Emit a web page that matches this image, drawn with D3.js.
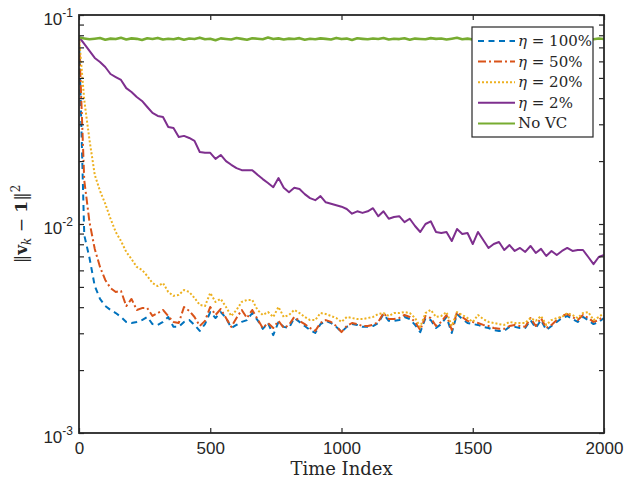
<!DOCTYPE html>
<html>
<head>
<meta charset="utf-8">
<script src="https://cdn.jsdelivr.net/npm/d3@7"></script>
<style>
  body { margin: 0; background: #fff; }
  .tick text { font-family: "Liberation Sans", Arial, sans-serif; fill: #262626; }
</style>
</head>
<body>
<div id="chart"></div>
<script>
// time index grid (every 20 samples)
const timeIndex = d3.range(0, 2001, 20);

const eta100 = [0.0785, 0.00886, 0.00688, 0.00505, 0.00438, 0.00405, 0.00388, 0.00375, 0.00359, 0.00340,
  0.00336, 0.00340, 0.00347, 0.00359, 0.00332, 0.00329, 0.00340, 0.00359, 0.00322, 0.00322,
  0.00340, 0.00347, 0.00329, 0.00308, 0.00332, 0.00379, 0.00355, 0.00379, 0.00355, 0.00318,
  0.00329, 0.00340, 0.00347, 0.00375, 0.00347, 0.00315, 0.00336, 0.00294, 0.00340, 0.00322,
  0.00318, 0.00355, 0.00340, 0.00325, 0.00311, 0.00301, 0.00332, 0.00344, 0.00336, 0.00322,
  0.00304, 0.00322, 0.00332, 0.00329, 0.00322, 0.00322, 0.00325, 0.00336, 0.00371, 0.00344,
  0.00344, 0.00347, 0.00359, 0.00351, 0.00329, 0.00304, 0.00355, 0.00347, 0.00318, 0.00332,
  0.00359, 0.00301, 0.00371, 0.00351, 0.00336, 0.00332, 0.00329, 0.00322, 0.00318, 0.00311,
  0.00308, 0.00308, 0.00322, 0.00322, 0.00318, 0.00318, 0.00347, 0.00318, 0.00347, 0.00311,
  0.00325, 0.00340, 0.00355, 0.00363, 0.00351, 0.00340, 0.00359, 0.00347, 0.00332, 0.00340,
  0.00355];

const eta50 = [0.0785, 0.0162, 0.0102, 0.00760, 0.00623, 0.00540, 0.00494, 0.00473, 0.00478, 0.00405,
  0.00438, 0.00388, 0.00396, 0.00396, 0.00363, 0.00375, 0.00388, 0.00363, 0.00340, 0.00336,
  0.00401, 0.00384, 0.00359, 0.00325, 0.00344, 0.00401, 0.00367, 0.00392, 0.00355, 0.00322,
  0.00355, 0.00388, 0.00355, 0.00388, 0.00351, 0.00318, 0.00336, 0.00318, 0.00344, 0.00318,
  0.00329, 0.00359, 0.00344, 0.00332, 0.00318, 0.00308, 0.00336, 0.00347, 0.00340, 0.00325,
  0.00304, 0.00325, 0.00336, 0.00332, 0.00325, 0.00325, 0.00329, 0.00340, 0.00375, 0.00351,
  0.00351, 0.00355, 0.00367, 0.00359, 0.00340, 0.00311, 0.00363, 0.00355, 0.00325, 0.00340,
  0.00367, 0.00311, 0.00379, 0.00359, 0.00344, 0.00340, 0.00336, 0.00329, 0.00325, 0.00318,
  0.00315, 0.00315, 0.00325, 0.00329, 0.00325, 0.00322, 0.00355, 0.00325, 0.00355, 0.00318,
  0.00329, 0.00347, 0.00363, 0.00371, 0.00359, 0.00347, 0.00367, 0.00355, 0.00340, 0.00347,
  0.00363];

const eta20 = [0.0785, 0.0392, 0.0252, 0.0172, 0.0144, 0.0125, 0.0106, 0.00916, 0.00829, 0.00735,
  0.00680, 0.00623, 0.00603, 0.00564, 0.00522, 0.00505, 0.00522, 0.00473, 0.00453, 0.00458,
  0.00483, 0.00473, 0.00443, 0.00410, 0.00405, 0.00468, 0.00424, 0.00438, 0.00401, 0.00363,
  0.00388, 0.00424, 0.00433, 0.00433, 0.00388, 0.00367, 0.00379, 0.00359, 0.00401, 0.00359,
  0.00367, 0.00388, 0.00375, 0.00359, 0.00347, 0.00347, 0.00375, 0.00371, 0.00363, 0.00355,
  0.00340, 0.00359, 0.00355, 0.00351, 0.00351, 0.00355, 0.00359, 0.00371, 0.00375, 0.00363,
  0.00375, 0.00375, 0.00379, 0.00375, 0.00355, 0.00322, 0.00375, 0.00388, 0.00359, 0.00363,
  0.00379, 0.00325, 0.00379, 0.00367, 0.00355, 0.00340, 0.00367, 0.00351, 0.00340, 0.00336,
  0.00332, 0.00329, 0.00340, 0.00336, 0.00336, 0.00336, 0.00355, 0.00344, 0.00363, 0.00329,
  0.00347, 0.00355, 0.00359, 0.00375, 0.00367, 0.00355, 0.00375, 0.00379, 0.00347, 0.00359,
  0.00375];

const eta2 = [0.0785, 0.0727, 0.0673, 0.0623, 0.0596, 0.0564, 0.0522, 0.0505, 0.0489, 0.0447,
  0.0428, 0.0405, 0.0388, 0.0363, 0.0340, 0.0329, 0.0325, 0.0291, 0.0288, 0.0261,
  0.0264, 0.0258, 0.0250, 0.0221, 0.0219, 0.0219, 0.0205, 0.0214, 0.0200, 0.0192,
  0.0185, 0.0181, 0.0181, 0.0181, 0.0172, 0.0164, 0.0157, 0.0150, 0.0166, 0.0149,
  0.0142, 0.0149, 0.0147, 0.0139, 0.0133, 0.0130, 0.0136, 0.0127, 0.0125, 0.0123,
  0.0121, 0.0118, 0.0112, 0.0115, 0.0113, 0.0115, 0.0119, 0.0109, 0.0115, 0.0106,
  0.0108, 0.0109, 0.0102, 0.0106, 0.00978, 0.00916, 0.0100, 0.0103, 0.00916, 0.00906,
  0.00916, 0.00829, 0.00946, 0.00896, 0.00906, 0.00802, 0.00916, 0.00838, 0.00768, 0.00802,
  0.00820, 0.00751, 0.00793, 0.00743, 0.00768, 0.00735, 0.00785, 0.00727, 0.00760, 0.00703,
  0.00743, 0.00711, 0.00743, 0.00768, 0.00743, 0.00751, 0.00751, 0.00695, 0.00643, 0.00695,
  0.00711];

const noVC = [0.0780, 0.0772, 0.0765, 0.0770, 0.0776, 0.0762, 0.0771, 0.0767, 0.0778, 0.0764,
  0.0773, 0.0769, 0.0760, 0.0774, 0.0768, 0.0777, 0.0763, 0.0770, 0.0766, 0.0775,
  0.0761, 0.0772, 0.0767, 0.0779, 0.0765, 0.0770, 0.0758, 0.0773, 0.0768, 0.0764,
  0.0776, 0.0769, 0.0762, 0.0774, 0.0770, 0.0766, 0.0781, 0.0767, 0.0773, 0.0763,
  0.0771, 0.0768, 0.0775, 0.0762, 0.0770, 0.0766, 0.0773, 0.0769, 0.0764, 0.0777,
  0.0767, 0.0771, 0.0760, 0.0774, 0.0769, 0.0765, 0.0772, 0.0768, 0.0776, 0.0763,
  0.0770, 0.0767, 0.0774, 0.0761, 0.0771, 0.0768, 0.0765, 0.0775, 0.0769, 0.0772,
  0.0763, 0.0770, 0.0778, 0.0766, 0.0771, 0.0764, 0.0773, 0.0768, 0.0776, 0.0762,
  0.0770, 0.0767, 0.0774, 0.0765, 0.0771, 0.0769, 0.0763, 0.0775, 0.0768, 0.0772,
  0.0766, 0.0770, 0.0774, 0.0764, 0.0771, 0.0767, 0.0773, 0.0769, 0.0765, 0.0772,
  0.0768];

const seriesNames = ['100%', '50%', '20%', '2%', 'No VC'];
const xTicks = [0, 500, 1000, 1500, 2000];
const yMajor = [1e-3, 1e-2, 1e-1];
const yExponents = ['-3', '-2', '-1'];

const svgWidth = 626, svgHeight = 483;
const plotLeft = 79, plotRight = 604, plotTop = 15, plotBottom = 433;
const axisColor = '#262626';

const svg = d3.select('#chart').append('svg')
  .attr('width', svgWidth)
  .attr('height', svgHeight)
  .style('font-family', '"Liberation Sans", Arial, sans-serif');

const x = d3.scaleLinear().domain([0, 2000]).range([plotLeft, plotRight]);
const y = d3.scaleLog().domain([1e-3, 1e-1]).range([plotBottom, plotTop]);

// minor log ticks 2..9 in each decade
const yMinor = [];
[1e-3, 1e-2].forEach(d => { for (let m = 2; m <= 9; m++) yMinor.push(d * m); });

svg.append('defs').append('clipPath').attr('id', 'clip')
  .append('rect')
  .attr('x', plotLeft).attr('y', plotTop)
  .attr('width', plotRight - plotLeft).attr('height', plotBottom - plotTop);

// lines
const series = [
  {name: seriesNames[0], values: eta100, color: '#0072BD', dash: '6,4.5', w: 2},
  {name: seriesNames[1], values: eta50, color: '#D95319', dash: '8,3,2,3', w: 2},
  {name: seriesNames[2], values: eta20, color: '#EDB120', dash: '2,2', w: 2},
  {name: seriesNames[3], values: eta2, color: '#7E2F8E', dash: null, w: 2},
  {name: seriesNames[4], values: noVC, color: '#77AC30', dash: null, w: 2.6}
];

const line = d3.line()
  .x((d, i) => x(timeIndex[i]))
  .y(d => y(d));

const plot = svg.append('g').attr('clip-path', 'url(#clip)');
series.forEach(s => {
  plot.append('path')
    .datum(s.values)
    .attr('d', line)
    .attr('fill', 'none')
    .attr('stroke', s.color)
    .attr('stroke-width', s.w)
    .attr('stroke-dasharray', s.dash)
    .attr('stroke-linejoin', 'round');
});

// axes
const tickLen = 5;
const xAxis = svg.append('g')
  .attr('transform', `translate(0, ${plotBottom})`)
  .call(d3.axisBottom(x).tickValues(xTicks).tickFormat(d3.format('d'))
    .tickSizeInner(-tickLen).tickSizeOuter(0).tickPadding(9));
xAxis.selectAll('text').style('font-size', '17px');

svg.append('g')
  .attr('transform', `translate(0, ${plotTop})`)
  .call(d3.axisTop(x).tickValues(xTicks).tickSizeInner(-tickLen).tickSizeOuter(0).tickFormat(''));

svg.append('g')
  .attr('transform', `translate(${plotLeft}, 0)`)
  .call(d3.axisLeft(y).tickValues(yMajor.concat(yMinor)).tickSizeInner(-tickLen).tickSizeOuter(0).tickFormat(''));

svg.append('g')
  .attr('transform', `translate(${plotRight}, 0)`)
  .call(d3.axisRight(y).tickValues(yMajor.concat(yMinor)).tickSizeInner(-tickLen).tickSizeOuter(0).tickFormat(''));

svg.selectAll('.domain').remove();
svg.selectAll('.tick line').attr('stroke', axisColor).attr('stroke-width', 1.2);

// y tick labels 10^k
yMajor.forEach((v, i) => {
  const t = svg.append('text')
    .attr('x', 73)
    .attr('y', y(v) + 10)
    .attr('text-anchor', 'end')
    .attr('fill', axisColor)
    .style('font-size', '17px');
  t.append('tspan').text('10');
  t.append('tspan').attr('dy', -8).style('font-size', '12px').text(yExponents[i]);
});

// frame
svg.append('rect')
  .attr('x', plotLeft).attr('y', plotTop)
  .attr('width', plotRight - plotLeft).attr('height', plotBottom - plotTop)
  .attr('fill', 'none')
  .attr('stroke', axisColor)
  .attr('stroke-width', 1.8);

// axis labels
svg.append('text')
  .attr('x', (plotLeft + plotRight) / 2)
  .attr('y', 475)
  .attr('text-anchor', 'middle')
  .attr('fill', axisColor)
  .style('font-family', '"DejaVu Serif", serif')
  .style('font-size', '18px')
  .text('Time Index');

const yLabel = svg.append('text')
  .attr('transform', `translate(27, ${(plotTop + plotBottom) / 2}) rotate(-90)`)
  .attr('text-anchor', 'middle')
  .attr('fill', axisColor)
  .style('font-family', '"DejaVu Serif", serif')
  .style('font-size', '17px');
yLabel.append('tspan').text('‖');
yLabel.append('tspan').style('font-weight', 'bold').text('v');
yLabel.append('tspan').attr('dy', 4).style('font-style', 'italic').style('font-size', '12px').text('k');
yLabel.append('tspan').attr('dy', -4).text(' − ');
yLabel.append('tspan').style('font-weight', 'bold').text('1');
yLabel.append('tspan').text('‖');
yLabel.append('tspan').attr('dy', -7).style('font-size', '12px').text('2');

// legend
const legend = svg.append('g');
legend.append('rect')
  .attr('x', 472).attr('y', 27)
  .attr('width', 121).attr('height', 110)
  .attr('fill', '#fff')
  .attr('stroke', axisColor)
  .attr('stroke-width', 1.2);

const legendItem = legend.selectAll('g.item')
  .data(series)
  .enter()
  .append('g')
  .attr('class', 'item')
  .attr('transform', (d, i) => `translate(0, ${41 + i * 20.6})`);

legendItem.append('line')
  .attr('x1', 478).attr('x2', 515)
  .attr('stroke', d => d.color)
  .attr('stroke-width', 2)
  .attr('stroke-dasharray', d => d.dash);

const legendText = legendItem.append('text')
  .attr('x', 518)
  .attr('y', 5)
  .attr('fill', axisColor)
  .style('font-family', '"DejaVu Serif", serif')
  .style('font-size', '15px');
legendText.each(function(d) {
  const t = d3.select(this);
  if (d.name === 'No VC') {
    t.text(d.name);
  } else {
    t.append('tspan').style('font-style', 'italic').text('η');
    t.append('tspan').text(' = ' + d.name);
  }
});
</script>
</body>
</html>
